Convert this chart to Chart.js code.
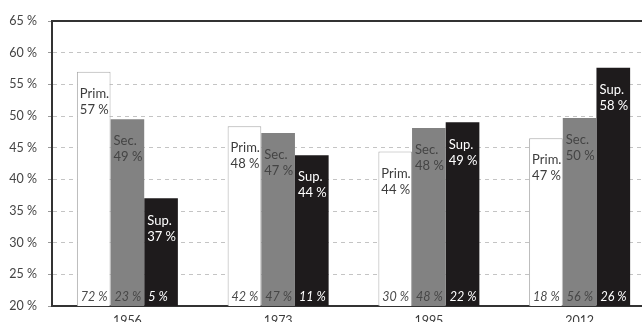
<!DOCTYPE html>
<html>
<head>
<meta charset="utf-8">
<script src="https://cdn.jsdelivr.net/npm/chart.js@4"></script>
<style>
  html, body { margin: 0; padding: 0; background: #fff; overflow: hidden; }
  #wrap { width: 670px; height: 340px; }
</style>
</head>
<body>
<div id="wrap"><canvas id="chart"></canvas></div>
<script>
const years = ["1956", "1973", "1995", "2012"];

// bar heights (%)
const primValues = [57, 48.4, 44.4, 46.5];
const secValues = [49.5, 47.3, 48.1, 49.7];
const supValues = [37, 43.8, 49, 57.6];

// labels at the top of each bar
const primTop = ["57 %", "48 %", "44 %", "47 %"];
const secTop = ["49 %", "47 %", "48 %", "50 %"];
const supTop = ["37 %", "44 %", "49 %", "58 %"];

// italic labels at the foot of each bar
const primFoot = ["72 %", "42 %", "30 %", "18 %"];
const secFoot = ["23 %", "47 %", "48 %", "56 %"];
const supFoot = ["5 %", "11 %", "22 %", "26 %"];

const seriesNames = ["Prim.", "Sec.", "Sup."];

const fontFamily = "Lato, 'Open Sans', sans-serif";

// writes the name + value near the top and the share at the bottom of every bar
const barText = {
    id: 'barText',
    afterDatasetsDraw(chart) {
        const ctx = chart.ctx;
        const yScale = chart.scales.y;
        const floor = yScale.getPixelForValue(yScale.min);
        const tops = [primTop, secTop, supTop];
        const feet = [primFoot, secFoot, supFoot];
        const colors = ["#3c3c3c", "#444", "#fff"];
        const footColors = ["#4a4a4a", "#474747", "#fff"];

        chart.data.datasets.forEach((ds, i) => {
            const meta = chart.getDatasetMeta(i);
            meta.data.forEach((bar, j) => {
                const left = bar.x - bar.width / 2 + 3;
                ctx.save();
                ctx.textAlign = 'left';
                ctx.textBaseline = 'middle';
                ctx.fillStyle = colors[i];
                ctx.font = "13px " + fontFamily;
                ctx.fillText(seriesNames[i], left, bar.y + 22);
                ctx.fillText(tops[i][j], left, bar.y + 38);

                ctx.fillStyle = footColors[i];
                ctx.font = "italic 12.5px " + fontFamily;
                ctx.fillText(feet[i][j], left + 1, floor - 9);
                ctx.restore();
            });
        });
    }
};

// solid frame line along the top of the plot
const topLine = {
    id: 'topLine',
    afterDraw(chart) {
        const { ctx, chartArea } = chart;
        ctx.save();
        ctx.strokeStyle = '#333';
        ctx.lineWidth = 2;
        ctx.beginPath();
        ctx.moveTo(chartArea.left - 1, chartArea.top);
        ctx.lineTo(chartArea.right, chartArea.top);
        ctx.stroke();
        ctx.restore();
    }
};

new Chart(document.getElementById("chart"), {
    type: "bar",
    data: {
        labels: years,
        datasets: [
            {
                label: "Prim.",
                data: primValues,
                backgroundColor: "#fff",
                borderColor: "#aaa",
                borderWidth: 1,
                borderSkipped: 'bottom',
            },
            {
                label: "Sec.",
                data: secValues,
                backgroundColor: "#828282",
                borderWidth: 0,
            },
            {
                label: "Sup.",
                data: supValues,
                backgroundColor: "#1e1b1c",
                borderWidth: 0,
            }
        ]
    },
    options: {
        responsive: true,
        maintainAspectRatio: false,
        animation: false,
        datasets: {
            bar: {
                barPercentage: 1.0,
                categoryPercentage: 0.67,
            }
        },
        layout: {
            padding: { top: 21, right: 15, bottom: 5, left: 0 }
        },
        plugins: {
            legend: { display: false },
            tooltip: { enabled: false }
        },
        scales: {
            x: {
                grid: { display: false, drawTicks: false },
                border: { color: '#333', width: 2 },
                ticks: {
                    padding: 7,
                    color: '#3c3c3c',
                    font: { family: fontFamily, size: 12.5 }
                }
            },
            y: {
                min: 20,
                max: 65,
                afterFit: (scale) => { scale.width = 52; },
                border: { color: '#333', width: 2, dash: [4, 4] },
                grid: {
                    color: (c) => c.tick && c.tick.value === 20 ? 'transparent' : '#c4c4c4',
                    tickColor: '#999',
                    tickLength: 4,
                },
                ticks: {
                    stepSize: 5,
                    padding: 11,
                    color: '#444',
                    font: { family: fontFamily, size: 12.5 },
                    callback: (v) => v + " %"
                }
            }
        }
    },
    plugins: [barText, topLine]
});
</script>
</body>
</html>
